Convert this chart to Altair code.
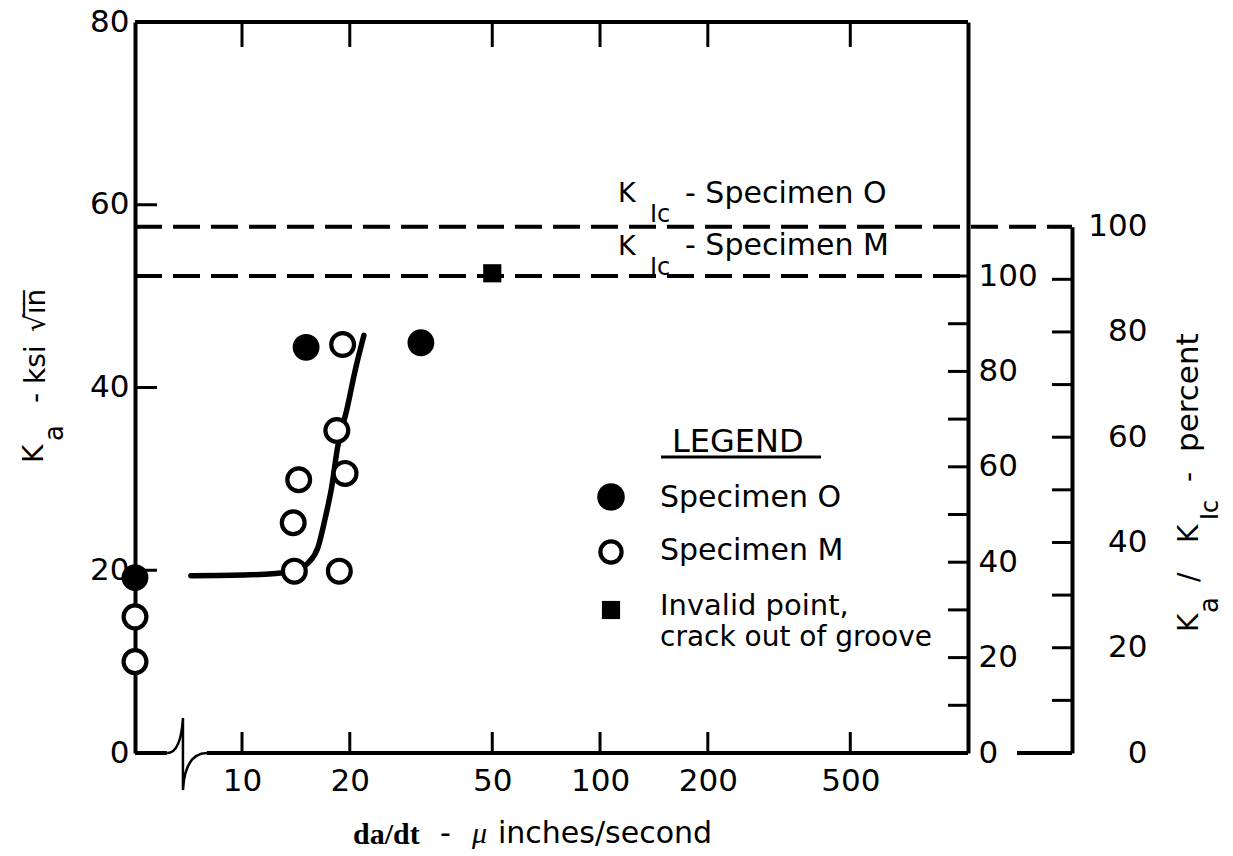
import altair as alt
import pandas as pd

# ---------------- data ----------------
spec_O_rate = [0, 15.1, 31.6]
spec_O_K = [19.2, 44.4, 44.9]
spec_M_rate = [0, 0, 14.0, 13.9, 14.4, 18.7, 18.4, 19.4, 19.1]
spec_M_K = [14.9, 10.0, 19.9, 25.2, 29.9, 19.9, 35.3, 30.6, 44.7]
invalid_rate = [50]
invalid_K = [52.5]
curve_rate = [7.2, 10.5, 13.9, 15.3, 16.3, 17.1, 17.8, 18.5, 19.6, 20.8, 21.9]
curve_K = [19.4, 19.5, 19.9, 20.8, 22.5, 25.8, 29.1, 33.5, 37.5, 42.2, 45.7]
kic_values = [57.6, 52.2]          # K_Ic Specimen O, Specimen M
x_tick_values = [10, 20, 50, 100, 200, 500]
y_label_values = [0, 20, 40, 60, 80]
y_minor_ticks = [20, 40, 60]
pct_ticks = [0, 10, 20, 30, 40, 50, 60, 70, 80, 90, 100]
pct_labels = [0, 20, 40, 60, 80, 100]
legend_labels = ["Specimen O", "Specimen M", "Invalid point,", "crack out of groove"]

# ---------------- layout constants ----------------
FONT = "DejaVu Sans"
SERIF = "Liberation Serif"
W, H = 833, 731
OUT = 104                      # offset of the outer percent axis
X_MIN, X_MAX = 5.025, 1066     # log-scale domain (0 values sit on the axis)
BREAK_L, BREAK_MID, BREAK_R = 6.17, 6.84, 7.98
SQUIGGLE = "M -0.44 0 Q -0.06 0 0 -0.97 L 0 1.03 Q 0.06 0 0.67 0"
LBL = 31

xscale = alt.Scale(type="log", domain=[X_MIN, X_MAX], nice=False)
ONE = pd.DataFrame({"a": [0]})

def yscale():
    return alt.Scale(domain=[0, 80], nice=False, zero=False)

def X(field="x:Q", axis=None):
    return alt.X(field, scale=xscale, axis=axis)

def Y(field="y:Q", axis=None):
    return alt.Y(field, scale=yscale(), axis=axis)

def txt(s, x, y, size=30, angle=0, font=FONT, weight="normal", style="normal"):
    return alt.Chart(ONE).mark_text(
        text=s, font=font, fontSize=size, angle=angle, align="left",
        baseline="alphabetic", fontWeight=weight, fontStyle=style, color="black"
    ).encode(x=alt.value(x), y=alt.value(y))

# ---------------- frame, axes and ticks ----------------
bottom_ticks = alt.Chart(pd.DataFrame({"v": x_tick_values})).mark_rule(
    color="black", strokeWidth=3).encode(
    x=X("v:Q", alt.Axis(orient="bottom", values=x_tick_values, tickSize=0, domain=False,
                        labelFontSize=LBL, labelFont=FONT, labelColor="black", labelPadding=13,
                        labelOverlap=False, labelFlush=False, title=None, grid=False)),
    y=alt.value(H), y2=alt.value(H - 21))

top_ticks = alt.Chart(pd.DataFrame({"v": x_tick_values})).mark_rule(
    color="black", strokeWidth=3).encode(x=X("v:Q"), y=alt.value(0), y2=alt.value(25))

top_line = alt.Chart(ONE).mark_rule(color="black", strokeWidth=4).encode(
    x=alt.value(0), x2=alt.value(W), y=alt.value(0))

left_ticks = alt.Chart(pd.DataFrame({"v": y_minor_ticks})).mark_rule(
    color="black", strokeWidth=3).encode(
    y=Y("v:Q", alt.Axis(orient="left", values=y_label_values, tickSize=0, domainWidth=4,
                        domainColor="black", labelFontSize=LBL, labelFont=FONT, labelColor="black",
                        labelPadding=6, title=None, grid=False, labelFlush=False)),
    x=alt.value(0), x2=alt.value(22))

bottom_line = alt.Chart(pd.DataFrame({"x1": [X_MIN, BREAK_R], "x2": [BREAK_L, X_MAX]})).mark_rule(
    color="black", strokeWidth=4).encode(x=X("x1:Q"), x2="x2:Q", y=alt.value(H))

squiggle = alt.Chart(pd.DataFrame({"x": [BREAK_MID], "y": [0]})).mark_point(
    shape=SQUIGGLE, size=5184, filled=False, color="black", strokeWidth=2.5, opacity=1
).encode(x=X(), y=Y())

pctM = alt.Chart(pd.DataFrame({"p": pct_ticks})).mark_rule(color="black", strokeWidth=3).encode(
    y=alt.Y("p:Q", scale=alt.Scale(domain=[0, 100 * 80 / kic_values[1]], nice=False, zero=False),
            axis=alt.Axis(orient="right", values=pct_labels, tickSize=0, domainWidth=4,
                          domainColor="black", labelFontSize=LBL, labelFont=FONT,
                          labelColor="black", labelAlign="left", labelPadding=10,
                          title=None, grid=False, labelFlush=False)),
    x=alt.value(W - 20), x2=alt.value(W))

def pO_scale():
    return alt.Scale(domain=[0, 100], range=[H, H - kic_values[0] * H / 80], nice=False, zero=False)

pctO_ticks = alt.Chart(pd.DataFrame({"p": pct_ticks})).mark_rule(color="black", strokeWidth=3).encode(
    y=alt.Y("p:Q", scale=pO_scale(),
            axis=alt.Axis(orient="right", offset=OUT, values=pct_labels, tickSize=0, domainWidth=4,
                          domainColor="black", labelFontSize=LBL, labelFont=FONT,
                          labelColor="black", labelAlign="right", labelPadding=75,
                          title=None, grid=False, labelFlush=False)),
    x=alt.value(W + OUT - 20), x2=alt.value(W + OUT))
pctO_base = alt.Chart(pd.DataFrame({"p": pct_ticks[:1]})).mark_rule(color="black", strokeWidth=4).encode(
    y=alt.Y("p:Q", scale=pO_scale(), axis=None), x=alt.value(W + OUT - 55), x2=alt.value(W + OUT))

# ---------------- data marks ----------------
kic_O = alt.Chart(pd.DataFrame({"K": kic_values[:1]})).mark_rule(
    color="black", strokeWidth=4, strokeDash=[27, 11]).encode(
    y=Y("K:Q"), x=alt.value(0), x2=alt.value(W + OUT))
kic_M = alt.Chart(pd.DataFrame({"K": kic_values[1:]})).mark_rule(
    color="black", strokeWidth=4, strokeDash=[27, 11]).encode(
    y=Y("K:Q"), x=alt.value(0), x2=alt.value(W))

curve = alt.Chart(pd.DataFrame({"x": curve_rate, "y": curve_K})).mark_line(
    color="black", strokeWidth=5.5, strokeCap="round", strokeJoin="round", interpolate="monotone"
).encode(x=X(), y=Y(), order="x:Q")

def pts(rates, ks):
    return alt.Chart(pd.DataFrame({"rate": rates, "y": ks})).transform_calculate(
        x=f"datum.rate > 0 ? datum.rate : {X_MIN}")

pts_O = pts(spec_O_rate, spec_O_K).mark_point(
    shape="circle", filled=True, color="black", size=720, opacity=1).encode(x=X(), y=Y())
pts_M = pts(spec_M_rate, spec_M_K).mark_point(
    shape="circle", filled=True, fill="white", stroke="black", strokeWidth=4.2, size=520,
    opacity=1).encode(x=X(), y=Y())
pts_inv = pts(invalid_rate, invalid_K).mark_point(
    shape="square", filled=True, color="black", size=330, opacity=1).encode(x=X(), y=Y())

# ---------------- legend (drawn as marks) ----------------
leg_O = alt.Chart(ONE).mark_point(shape="circle", filled=True, color="black", size=760,
                                  opacity=1).encode(x=alt.value(476), y=alt.value(475))
leg_M = alt.Chart(ONE).mark_point(shape="circle", filled=True, fill="white", stroke="black",
                                  strokeWidth=4.2, size=450, opacity=1).encode(
    x=alt.value(476), y=alt.value(530))
leg_I = alt.Chart(ONE).mark_point(shape="square", filled=True, color="black", size=330,
                                  opacity=1).encode(x=alt.value(476), y=alt.value(588))
leg_ul = alt.Chart(ONE).mark_rule(color="black", strokeWidth=3).encode(
    x=alt.value(526), x2=alt.value(686), y=alt.value(435))

texts = [
    # left title
    txt("K", -92, 441, 28, 270),
    txt("a", -72, 419, 26, 270),
    txt("- ksi", -90, 381, 28, 270),
    txt("√i\u0305n\u0305", -90, 310, 28, 270),
    # right title
    txt("K", 1063, 610, 28, 270),
    txt("a", 1083, 591, 26, 270),
    txt("/", 1063, 560, 28, 270),
    txt("K", 1063, 521, 28, 270),
    txt("Ic", 1083, 498, 24, 270),
    txt("-", 1063, 460, 28, 270),
    txt("percent", 1063, 430, 31, 270),
    # K_Ic annotations
    txt("K", 483, 180, 27),
    txt("Ic", 515, 200, 24),
    txt("- Specimen O", 550, 181, 30),
    txt("K", 483, 233, 27),
    txt("Ic", 515, 253, 24),
    txt("- Specimen M", 550, 233, 30),
    # legend
    txt("LEGEND", 537, 430, 32),
    txt(legend_labels[0], 525, 485, 30),
    txt(legend_labels[1], 525, 538, 30),
    txt(legend_labels[2], 525, 593, 29),
    txt(legend_labels[3], 525, 624, 28),
    # x title
    txt("da/dt", 218, 822, 30, font=SERIF, weight="bold"),
    txt("-", 305, 821, 30),
    txt("μ", 337, 821, 30, font=SERIF, style="italic"),
    txt("inches/second", 363, 821, 30),
]

chart = alt.layer(
    top_line, top_ticks, bottom_line, squiggle, bottom_ticks, left_ticks,
    pctM, pctO_ticks, pctO_base,
    kic_O, kic_M, curve, pts_O, pts_M, pts_inv,
    leg_O, leg_M, leg_I, leg_ul, *texts
).resolve_scale(y="independent").resolve_axis(x="independent").properties(
    width=W, height=H,
    autosize=alt.AutoSizeParams(type="none"),
    padding={"left": 127, "top": 14, "right": 257, "bottom": 97},
).configure_view(stroke=None).configure_axis(grid=False)

chart.save("out.html", embed_options={"renderer": "svg", "actions": False})
